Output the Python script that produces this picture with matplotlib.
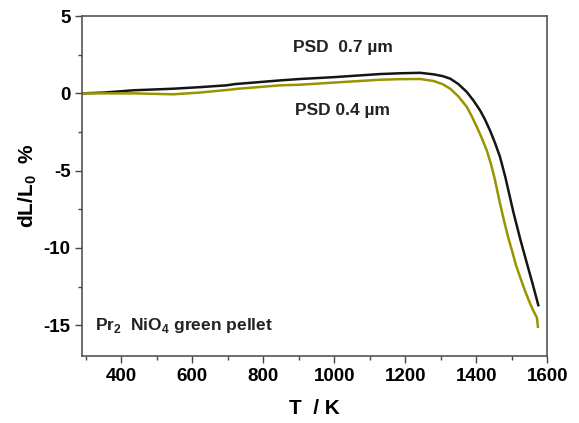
import numpy as np
import matplotlib.pyplot as plt
from matplotlib.ticker import MultipleLocator

plt.rcParams['font.family'] = ['Liberation Sans', 'DejaVu Sans']
plt.rcParams['font.weight'] = 'bold'
plt.rcParams['axes.unicode_minus'] = False
plt.rcParams['mathtext.fontset'] = 'custom'
plt.rcParams['mathtext.bf'] = 'Liberation Sans:bold'
plt.rcParams['mathtext.rm'] = 'Liberation Sans:bold'

# PSD 0.7 um (black)
T_07 = [290, 350, 434, 546, 620, 697, 720, 848, 904, 1000, 1129, 1186, 1242, 1280,
        1305, 1327, 1350, 1374, 1392, 1411, 1425, 1439, 1453, 1467, 1482, 1495, 1505,
        1525, 1543, 1560, 1575]
dL_07 = [0.0, 0.05, 0.2, 0.3, 0.4, 0.52, 0.6, 0.84, 0.93, 1.05, 1.25, 1.3, 1.33, 1.23,
         1.12, 0.95, 0.6, 0.08, -0.45, -1.1, -1.7, -2.4, -3.2, -4.1, -5.4, -6.7, -7.7,
         -9.5, -11.0, -12.4, -13.7]

# PSD 0.4 um (olive)
T_04 = [290, 350, 434, 546, 620, 707, 730, 848, 904, 1000, 1129, 1186, 1242, 1280,
        1305, 1327, 1350, 1374, 1388, 1402, 1416, 1430, 1442, 1453, 1465, 1477, 1490,
        1500, 1512, 1524, 1538, 1552, 1562, 1571, 1574]
dL_04 = [0.0, 0.0, 0.0, -0.06, 0.05, 0.24, 0.3, 0.52, 0.56, 0.7, 0.88, 0.92, 0.93, 0.8,
         0.6, 0.3, -0.2, -0.89, -1.5, -2.18, -2.9, -3.7, -4.6, -5.6, -6.9, -8.1, -9.3,
         -10.1, -11.1, -11.9, -12.8, -13.6, -14.1, -14.5, -15.1]

fig, ax = plt.subplots(figsize=(5.79, 4.23), dpi=100)
fig.subplots_adjust(left=0.142, right=0.945, top=0.962, bottom=0.158)

ax.plot(T_07, dL_07, color='#151515', lw=1.8)
ax.plot(T_04, dL_04, color='#9a9400', lw=1.8)

ax.set_xlim(290, 1600)
ax.set_ylim(-17, 5)
ax.xaxis.set_major_locator(MultipleLocator(200))
ax.xaxis.set_minor_locator(MultipleLocator(100))
ax.yaxis.set_major_locator(MultipleLocator(5))
ax.yaxis.set_minor_locator(MultipleLocator(2.5))
ax.tick_params(which='both', direction='out', top=False, right=False,
               labelsize=13.5, color='#444444', width=1)
ax.tick_params(which='major', length=5)
ax.tick_params(which='minor', length=3)
for s in ax.spines.values():
    s.set_color('#555555')
    s.set_linewidth(1.2)

ax.set_xlabel('T  / K', fontsize=15, fontweight='bold', labelpad=10)
ax.set_ylabel('dL/L$_\\mathbf{0}$  %', fontsize=15, fontweight='bold', labelpad=3)

ax.text(884, 2.98, 'PSD  0.7 µm', fontsize=12.5, fontweight='bold',
        va='center', ha='left', color='#222222')
ax.text(890, -1.1, 'PSD 0.4 µm', fontsize=12.5, fontweight='bold',
        va='center', ha='left', color='#222222')
ax.text(327, -15, 'Pr$_\\mathbf{2}$  NiO$_\\mathbf{4}$ green pellet', fontsize=12.5,
        fontweight='bold', va='center', ha='left', color='#222222')

fig.savefig('out.png', dpi=100)
